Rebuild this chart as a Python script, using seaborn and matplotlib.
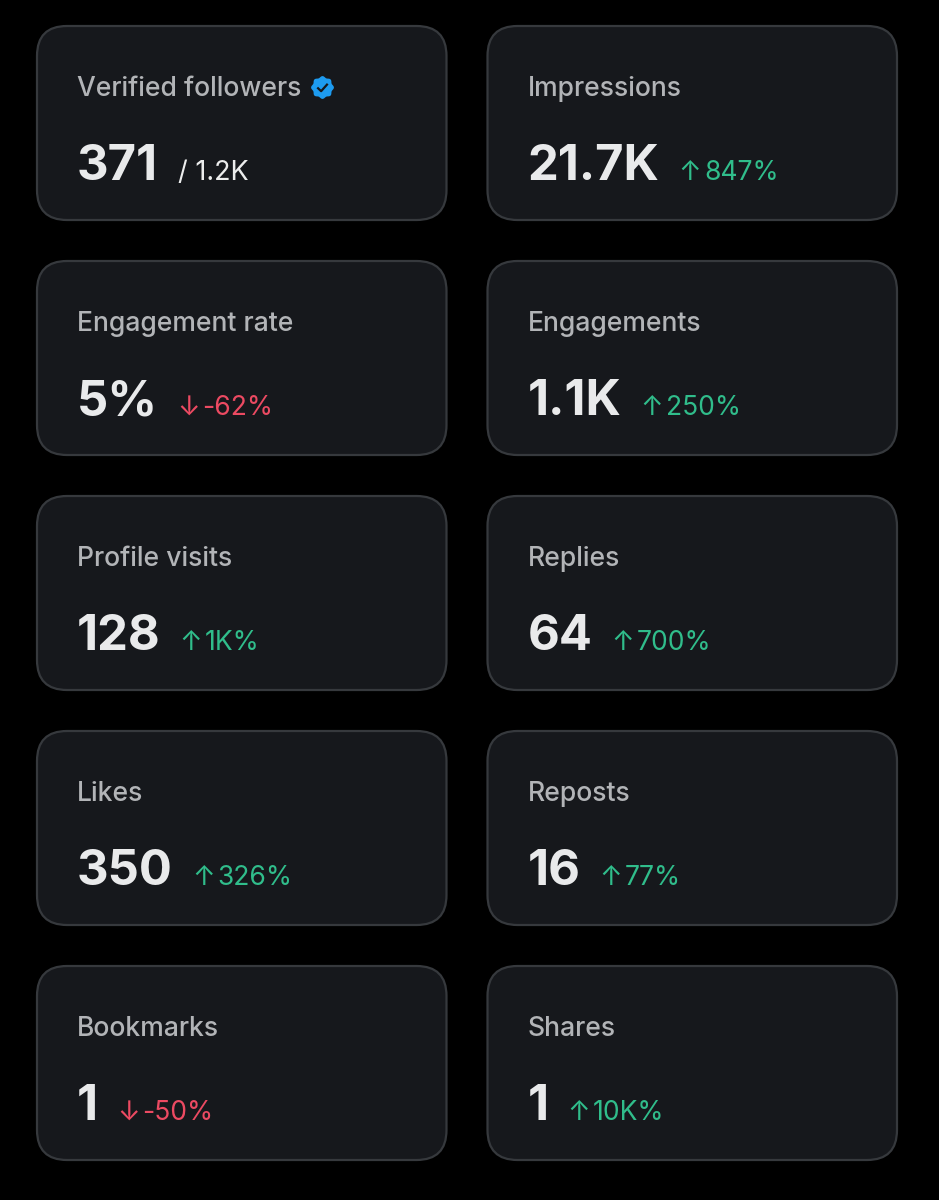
import matplotlib
matplotlib.use("Agg")
import matplotlib.pyplot as plt
from matplotlib.patches import FancyBboxPatch
from matplotlib.path import Path
import numpy as np
import seaborn as sns

# card contents, left to right then top to bottom
labels = ["Verified followers", "Impressions", "Engagement rate", "Engagements",
          "Profile visits", "Replies", "Likes", "Reposts", "Bookmarks", "Shares"]
values = ["371", "21.7K", "5%", "1.1K", "128", "64", "350", "16", "1", "1"]
deltas = ["/ 1.2K", "847%", "-62%", "250%", "1K%", "700%", "326%", "77%", "-50%", "10K%"]
trends = ["total", "up", "down", "up", "up", "up", "up", "up", "down", "up"]

trend_colors = {"total": "#eceded", "up": "#30bd8b", "down": "#ec4a62"}
arrows = {"total": "", "up": "↑", "down": "↓"}

sns.set_theme(style="white")
plt.rcParams["font.family"] = ["Inter", "DejaVu Sans"]

fig = plt.figure(figsize=(9.39, 12), dpi=100, facecolor="black")
ax = fig.add_axes([0, 0, 1, 1])
ax.set_xlim(0, 939)
ax.set_ylim(1200, 0)
ax.set_facecolor("black")
ax.axis("off")


def px(size):
    return size * 0.72


# scalloped badge outline for the verified mark
theta = np.linspace(0, 2 * np.pi, 160)
radius = 1 + 0.07 * np.cos(8 * theta)
badge = Path(np.column_stack([radius * np.cos(theta), radius * np.sin(theta)]), closed=True)
check = Path([(-0.45, 0.0), (-0.12, -0.32), (0.45, 0.32)])

renderer = fig.canvas.get_renderer()

for i, label in enumerate(labels):
    col, row = i % 2, i // 2
    x0 = 37 + col * 450.5
    y0 = 26 + row * 235
    ax.add_patch(FancyBboxPatch((x0, y0), 409.5, 194,
                                boxstyle="round,pad=0,rounding_size=30",
                                facecolor="#16181c", edgecolor="#36393d", linewidth=1.6))
    tx = x0 + 40
    lab = ax.text(tx, y0 + 70, label, fontsize=px(26.5), color="#b2b4b7",
                  va="baseline", ha="left", fontweight="medium")
    val = ax.text(tx, y0 + 154, values[i], fontsize=px(49), color="#e9eaeb",
                  va="baseline", ha="left", fontweight="bold")

    # the change figure sits right after the big number
    end = val.get_window_extent(renderer).x1
    trend = trends[i]
    color = trend_colors[trend]
    if trend == "total":
        ax.text(end + 20, y0 + 154, deltas[i], fontsize=px(27), color=color,
                va="baseline", ha="left")
    else:
        arr = ax.text(end + 19, y0 + 154, arrows[trend], fontsize=px(27), color=color,
                      va="baseline", ha="left")
        arr_end = arr.get_window_extent(renderer).x1
        ax.text(arr_end + 3, y0 + 154, deltas[i], fontsize=px(26.5), color=color,
                va="baseline", ha="left")

    if label == "Verified followers":
        bx = lab.get_window_extent(renderer).x1 + 21
        by = y0 + 61
        sns.scatterplot(x=[bx], y=[by], marker=badge, s=270, color="#1d9bf0",
                        linewidth=0, ax=ax, legend=False)
        ax.plot(bx, by, marker=check, markersize=7.5, markerfacecolor="none",
                markeredgecolor="#16181c", markeredgewidth=1.6)

ax.set_xlim(0, 939)
ax.set_ylim(1200, 0)
fig.savefig("out.png", dpi=100, facecolor="black")
